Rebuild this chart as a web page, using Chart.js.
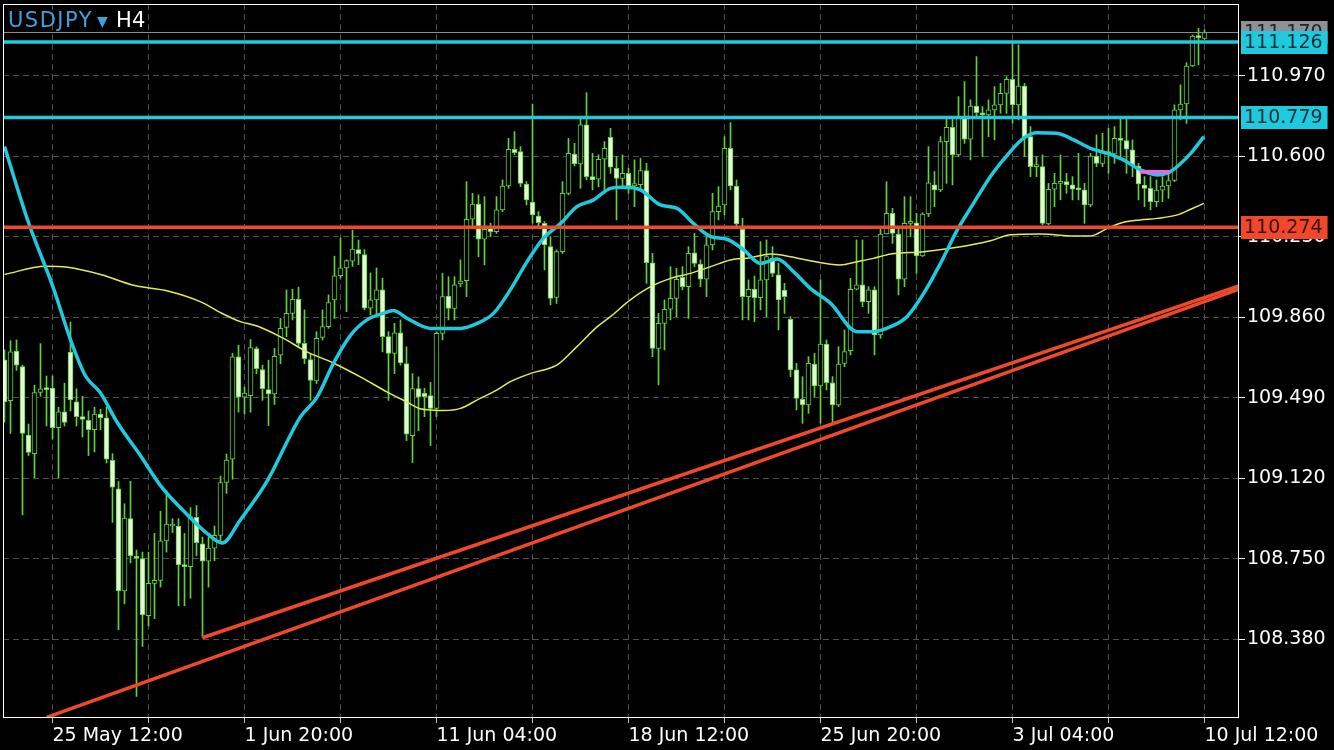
<!DOCTYPE html>
<html>
<head>
<meta charset="utf-8">
<title>USDJPY H4</title>
<script src="https://cdn.jsdelivr.net/npm/chart.js@4.4.0/dist/chart.umd.min.js"></script>
<style>
  html, body { margin: 0; padding: 0; background: #000; }
  canvas { display: block; }
</style>
</head>
<body>
<canvas id="chart" width="1334" height="750"></canvas>
<script>
// H4 candles, one per bar index (0 = oldest)
const opens = [
  109.664, 109.476, 109.705, 109.633, 109.318, 109.233, 109.514, 109.531, 109.534, 109.352,
  109.425, 109.700, 109.471, 109.403, 109.386, 109.343, 109.415, 109.398, 109.202, 109.071,
  108.602, 108.934, 108.755, 108.750, 108.488, 108.636, 108.650, 108.832, 108.900, 108.900,
  108.721, 108.713, 108.940, 108.818, 108.738, 108.798, 108.857, 109.100, 109.208, 109.678,
  109.493, 109.500, 109.716, 109.620, 109.527, 109.508, 109.686, 109.814, 109.878, 109.943,
  109.740, 109.666, 109.567, 109.768, 109.817, 109.940, 110.051, 110.087, 110.118, 110.171,
  110.148, 109.902, 109.940, 109.986, 109.771, 109.694, 109.789, 109.647, 109.316, 109.532,
  109.510, 109.500, 109.441, 109.786, 109.958, 109.901, 110.013, 110.029, 110.311, 110.381,
  110.219, 110.270, 110.254, 110.354, 110.464, 110.633, 110.622, 110.473, 110.390, 110.326,
  110.292, 110.185, 109.952, 110.162, 110.430, 110.611, 110.565, 110.745, 110.507, 110.495,
  110.587, 110.688, 110.545, 110.499, 110.522, 110.464, 110.470, 110.535, 110.111, 109.717,
  109.832, 109.897, 109.947, 110.044, 110.001, 110.157, 110.105, 110.035, 110.193, 110.346,
  110.377, 110.637, 110.464, 110.265, 109.955, 109.990, 109.950, 110.032, 110.131, 110.055,
  109.985, 109.851, 109.618, 109.483, 109.457, 109.645, 109.544, 109.737, 109.559, 109.457,
  109.648, 109.706, 109.989, 110.009, 109.932, 109.986, 109.779, 110.243, 110.338, 110.243,
  110.035, 110.292, 110.295, 110.142, 110.335, 110.469, 110.446, 110.668, 110.734, 110.607,
  110.775, 110.679, 110.832, 110.801, 110.791, 110.814, 110.837, 110.890, 110.955, 110.837,
  110.924, 110.691, 110.553, 110.553, 110.289, 110.449, 110.476, 110.484, 110.469, 110.449,
  110.446, 110.377, 110.602, 110.568, 110.622, 110.611, 110.683, 110.673, 110.630, 110.556,
  110.468, 110.453, 110.392, 110.445, 110.464, 110.489, 110.814, 110.841, 111.016, 111.154,
  111.143
];
const highs = [
  109.710, 109.752, 109.756, 109.640, 109.369, 109.548, 109.739, 109.590, 109.590, 109.446,
  109.557, 109.838, 109.531, 109.497, 109.429, 109.446, 109.437, 109.446, 109.233, 109.105,
  109.002, 109.105, 108.790, 108.780, 108.780, 108.866, 108.968, 109.062, 108.934, 108.934,
  108.866, 108.985, 108.994, 108.849, 108.849, 108.900, 109.130, 109.231, 109.694, 109.732,
  109.539, 109.758, 109.724, 109.640, 109.663, 109.717, 109.855, 109.986, 109.989, 109.999,
  109.894, 109.694, 109.794, 109.894, 109.963, 110.141, 110.225, 110.125, 110.261, 110.215,
  110.171, 110.064, 110.087, 110.040, 109.794, 109.832, 109.848, 109.724, 109.601, 109.586,
  109.533, 109.560, 109.794, 110.062, 110.047, 110.047, 110.124, 110.484, 110.430, 110.423,
  110.415, 110.293, 110.415, 110.492, 110.683, 110.714, 110.645, 110.484, 110.841, 110.346,
  110.300, 110.231, 110.170, 110.484, 110.683, 110.660, 110.783, 110.893, 110.614, 110.607,
  110.668, 110.729, 110.599, 110.607, 110.545, 110.584, 110.591, 110.568, 110.154, 109.878,
  109.940, 110.093, 110.085, 110.093, 110.185, 110.246, 110.124, 110.231, 110.430, 110.461,
  110.691, 110.755, 110.492, 110.315, 110.032, 110.050, 110.208, 110.216, 110.185, 110.108,
  110.016, 109.863, 109.648, 109.587, 109.679, 109.694, 110.032, 109.756, 109.587, 109.725,
  109.802, 110.039, 110.216, 110.216, 110.001, 110.001, 110.277, 110.484, 110.361, 110.277,
  110.415, 110.415, 110.338, 110.341, 110.645, 110.530, 110.691, 110.775, 110.775, 110.875,
  110.944, 110.860, 111.059, 110.829, 110.860, 110.921, 110.936, 110.967, 111.120, 111.113,
  110.936, 110.737, 110.599, 110.607, 110.476, 110.522, 110.607, 110.522, 110.507, 110.614,
  110.476, 110.614, 110.699, 110.706, 110.729, 110.737, 110.783, 110.783, 110.676, 110.568,
  110.507, 110.507, 110.492, 110.507, 110.530, 110.837, 110.929, 111.031, 111.159, 111.189,
  111.182
];
const lows = [
  109.378, 109.326, 109.616, 108.951, 109.224, 109.122, 109.497, 109.360, 109.300, 109.122,
  109.360, 109.429, 109.360, 109.309, 109.224, 109.241, 109.343, 109.190, 108.917, 108.423,
  108.542, 108.730, 108.116, 108.346, 108.440, 108.474, 108.619, 108.780, 108.870, 108.533,
  108.533, 108.568, 108.764, 108.388, 108.619, 108.740, 108.830, 109.050, 109.115, 109.424,
  109.416, 109.424, 109.601, 109.478, 109.362, 109.459, 109.647, 109.771, 109.848, 109.724,
  109.647, 109.478, 109.555, 109.755, 109.809, 109.855, 110.040, 109.886, 110.094, 110.102,
  109.894, 109.871, 109.863, 109.701, 109.478, 109.601, 109.640, 109.293, 109.192, 109.339,
  109.403, 109.270, 109.403, 109.756, 109.848, 109.848, 110.001, 109.955, 110.277, 110.139,
  110.101, 110.231, 110.246, 110.346, 110.453, 110.607, 110.461, 110.377, 110.292, 110.277,
  110.078, 109.917, 109.924, 110.154, 110.423, 110.556, 110.453, 110.492, 110.446, 110.461,
  110.446, 110.522, 110.308, 110.453, 110.430, 110.369, 110.446, 110.016, 109.679, 109.549,
  109.710, 109.848, 109.863, 109.986, 109.855, 110.093, 110.001, 109.955, 110.170, 110.308,
  110.331, 110.446, 110.277, 109.848, 109.848, 109.840, 109.894, 109.863, 110.047, 109.802,
  109.878, 109.587, 109.434, 109.372, 109.418, 109.495, 109.372, 109.526, 109.380, 109.449,
  109.633, 109.687, 109.986, 109.909, 109.878, 109.687, 109.763, 110.243, 110.200, 109.963,
  110.001, 110.231, 110.062, 110.139, 110.323, 110.369, 110.438, 110.476, 110.469, 110.599,
  110.660, 110.584, 110.783, 110.599, 110.691, 110.676, 110.798, 110.798, 110.752, 110.768,
  110.599, 110.507, 110.507, 110.285, 110.285, 110.369, 110.400, 110.430, 110.400, 110.400,
  110.292, 110.369, 110.553, 110.553, 110.522, 110.568, 110.599, 110.522, 110.507, 110.400,
  110.369, 110.354, 110.369, 110.392, 110.407, 110.484, 110.768, 110.752, 111.013, 111.021,
  111.139
];
const closes = [
  109.471, 109.701, 109.640, 109.326, 109.238, 109.514, 109.531, 109.527, 109.352, 109.425,
  109.377, 109.480, 109.403, 109.390, 109.343, 109.415, 109.398, 109.207, 109.079, 108.602,
  108.937, 108.764, 108.752, 108.491, 108.636, 108.650, 108.832, 108.909, 108.903, 108.721,
  108.713, 108.943, 108.823, 108.738, 108.798, 108.857, 109.100, 109.203, 109.678, 109.493,
  109.512, 109.721, 109.624, 109.532, 109.508, 109.681, 109.809, 109.878, 109.943, 109.740,
  109.670, 109.570, 109.763, 109.817, 109.928, 110.051, 110.087, 110.121, 110.174, 110.153,
  109.902, 109.940, 109.986, 109.771, 109.694, 109.789, 109.650, 109.323, 109.532, 109.493,
  109.495, 109.441, 109.786, 109.955, 109.901, 110.009, 110.027, 110.311, 110.381, 110.219,
  110.265, 110.254, 110.354, 110.464, 110.633, 110.617, 110.476, 110.400, 110.331, 110.295,
  110.193, 109.947, 110.162, 110.430, 110.614, 110.565, 110.745, 110.507, 110.492, 110.587,
  110.637, 110.550, 110.499, 110.522, 110.464, 110.475, 110.535, 110.111, 109.717, 109.832,
  109.897, 109.947, 110.035, 110.001, 110.154, 110.108, 110.035, 110.193, 110.346, 110.372,
  110.637, 110.464, 110.289, 109.955, 109.989, 109.950, 110.032, 110.139, 110.062, 109.940,
  109.955, 109.618, 109.487, 109.457, 109.648, 109.544, 109.737, 109.559, 109.457, 109.645,
  109.702, 109.989, 110.009, 109.932, 109.986, 109.779, 110.243, 110.338, 110.246, 110.035,
  110.292, 110.295, 110.142, 110.335, 110.479, 110.446, 110.668, 110.734, 110.607, 110.775,
  110.679, 110.832, 110.801, 110.791, 110.814, 110.837, 110.890, 110.955, 110.837, 110.924,
  110.691, 110.553, 110.558, 110.292, 110.449, 110.476, 110.484, 110.469, 110.449, 110.446,
  110.377, 110.602, 110.568, 110.622, 110.611, 110.683, 110.673, 110.633, 110.561, 110.473,
  110.453, 110.392, 110.445, 110.464, 110.489, 110.814, 110.841, 111.016, 111.154, 111.146,
  111.170
];

// moving averages, read at sample bar positions
const cyanIdx = [0, 4, 8, 11.3, 13.5, 16, 18.8, 22.7, 26, 30.5, 33.8, 36.3, 39.3, 43.8, 49.3, 52.1,
  54.8, 57.7, 60.4, 63.2, 64.8, 67.1, 71, 76, 78.8, 81.5, 84.3, 87.1, 89.8, 92.7, 95.4, 98.2, 101,
  103.2, 106, 109.3, 112.1, 114.8, 117.7, 120.4, 123.2, 126, 128.8, 131.5, 134.3, 137.7, 142.1,
  144.8, 147.7, 150.4, 153.2, 156, 158.8, 161.5, 164.3, 167.1, 169.8, 172.1, 175.4, 178.2, 181,
  183.8, 186.5, 189.3, 192.1, 194.3, 197.7, 199.9];
const cyanVal = [110.645, 110.296, 110.006, 109.734, 109.590, 109.512, 109.376, 109.222, 109.086,
  108.951, 108.865, 108.822, 108.928, 109.108, 109.401, 109.493, 109.647, 109.778, 109.848, 109.879,
  109.891, 109.855, 109.809, 109.809, 109.832, 109.878, 109.986, 110.116, 110.223, 110.292, 110.369,
  110.400, 110.453, 110.458, 110.446, 110.377, 110.361, 110.292, 110.231, 110.219, 110.170, 110.108,
  110.128, 110.070, 109.993, 109.924, 109.794, 109.794, 109.817, 109.863, 109.970, 110.108, 110.262,
  110.384, 110.507, 110.605, 110.683, 110.709, 110.706, 110.676, 110.637, 110.614, 110.584, 110.538,
  110.515, 110.530, 110.614, 110.691];
const magentaIdx = [189.2, 194.2];
const magentaVal = [110.530, 110.528];

const yellowIdx = [0, 6.8, 10.5, 16, 21.7, 27.2, 32.8, 36.1, 39.3, 42.1, 46.5, 50.4, 54.8, 59.3,
  63.8, 67.1, 69.3, 71, 73.2, 76, 78.8, 82.1, 84.3, 87.7, 92.1, 95.4, 98.8, 101, 104.3, 107.7, 111,
  114.3, 117.7, 121, 124.3, 127.7, 131, 134.3, 139.3, 142.1, 144.8, 147.7, 153.2, 158.8, 164.3,
  167.7, 172.7, 178.2, 181, 183.8, 186.5, 189.3, 192.1, 195.5, 197.7, 199.9];
const yellowVal = [110.057, 110.095, 110.090, 110.057, 110.006, 109.981, 109.930, 109.880, 109.840,
  109.820, 109.763, 109.701, 109.650, 109.586, 109.516, 109.470, 109.439, 109.434, 109.431, 109.441,
  109.480, 109.526, 109.564, 109.602, 109.641, 109.725, 109.817, 109.863, 109.940, 110.001, 110.039,
  110.062, 110.093, 110.124, 110.134, 110.151, 110.139, 110.120, 110.101, 110.116, 110.131, 110.151,
  110.162, 110.182, 110.212, 110.240, 110.243, 110.234, 110.234, 110.269, 110.297, 110.308, 110.315,
  110.331, 110.357, 110.384];

// drawn objects
const cyanLevels = [111.126, 110.779];
const redLevels = [110.274];
const bidLevel = 111.170;
const trendLowIdx = [7.03, 205.75];
const trendLowVal = [108.020, 109.989];
const trendHighIdx = [32.97, 205.75];
const trendHighVal = [108.386, 110.004];

// axes
const xTickIdx = [8, 24, 40, 56, 72, 88, 104, 120, 136, 152, 168, 184, 200];
const xTickText = ['25 May 12:00', '', '1 Jun 20:00', '', '11 Jun 04:00', '', '18 Jun 12:00', '',
  '25 Jun 20:00', '', '3 Jul 04:00', '', '10 Jul 12:00'];
const yTickVals = [108.380, 108.750, 109.120, 109.490, 109.860, 110.230, 110.600, 110.970];

const xMin = -0.25, xMax = 205.75;
const yMin = 108.017, yMax = 111.301;

const GREEN = '#5fd23c';
const CYAN = '#1fc9de';
const RED = '#f0482a';
const FONT = 'DejaVu Sans';

function pts(xs, ys) {
  return xs.map((x, k) => ({ x: x, y: ys[k] }));
}
function flat(v) {
  return [{ x: xMin, y: v }, { x: xMax, y: v }];
}

const bars = opens.map((o, i) => i);

const datasets = [
  {
    type: 'bar', label: 'wick', order: 6, grouped: false,
    data: bars.map(i => ({ x: i, y: [lows[i], highs[i]] })),
    backgroundColor: GREEN, borderWidth: 0, barThickness: 1
  },
  {
    type: 'bar', label: 'body', order: 5, grouped: false,
    data: bars.map(i => ({ x: i, y: [opens[i], closes[i]] })),
    backgroundColor: ctx => closes[ctx.dataIndex] >= opens[ctx.dataIndex] ? '#000000' : '#e4f8d4',
    borderColor: GREEN, borderWidth: 1, borderSkipped: false, barThickness: 5, minBarLength: 2
  },
  {
    type: 'line', label: 'slow', order: 4, data: pts(yellowIdx, yellowVal),
    borderColor: '#e3ec55', borderWidth: 1.5, pointRadius: 0, cubicInterpolationMode: 'monotone', clip: 0
  },
  {
    type: 'line', label: 'fast', order: 3, data: pts(cyanIdx, cyanVal),
    borderColor: CYAN, borderWidth: 3.5, pointRadius: 0, cubicInterpolationMode: 'monotone', clip: 0
  },
  {
    type: 'line', label: 'flat', order: 2, data: pts(magentaIdx, magentaVal),
    borderColor: '#e06ae6', borderWidth: 4, pointRadius: 0, clip: 0
  },
  {
    type: 'line', label: 'bid', order: 1, data: flat(bidLevel),
    borderColor: '#8d9096', borderWidth: 1, pointRadius: 0, clip: 0
  }
];
cyanLevels.forEach(v => datasets.push({
  type: 'line', order: 0, data: flat(v), borderColor: CYAN, borderWidth: 3.5, pointRadius: 0, clip: 0
}));
redLevels.forEach(v => datasets.push({
  type: 'line', order: 0, data: flat(v), borderColor: RED, borderWidth: 3.5, pointRadius: 0, clip: 0
}));
datasets.push({
  type: 'line', order: 0, data: pts(trendLowIdx, trendLowVal),
  borderColor: RED, borderWidth: 3.5, pointRadius: 0, clip: 0
});
datasets.push({
  type: 'line', order: 0, data: pts(trendHighIdx, trendHighVal),
  borderColor: RED, borderWidth: 3.5, pointRadius: 0, clip: 0
});

// frame, symbol caption and price tags
const decor = {
  id: 'decor',
  afterDatasetsDraw(chart) {
    const { ctx, chartArea: a } = chart;
    ctx.save();
    ctx.strokeStyle = '#ffffff';
    ctx.lineWidth = 1;
    ctx.strokeRect(Math.round(a.left) + 0.5, Math.round(a.top) + 0.5,
      Math.round(a.right - a.left) - 1, Math.round(a.bottom - a.top) - 1);
    ctx.restore();
  },
  afterDraw(chart) {
    const { ctx, chartArea: a } = chart;
    const y = chart.scales.y;
    ctx.save();
    ctx.font = '21px "' + FONT + '"';
    ctx.textBaseline = 'alphabetic';
    ctx.letterSpacing = '1.5px';
    ctx.fillStyle = '#3ea2df';
    ctx.fillText('USDJPY', a.left + 5, 27);
    let w = ctx.measureText('USDJPY').width;
    ctx.letterSpacing = '0px';
    ctx.font = '14px "' + FONT + '"';
    ctx.fillText('\u25BC', a.left + 9 + w, 26);
    ctx.font = '21px "' + FONT + '"';
    ctx.fillStyle = '#ffffff';
    ctx.fillText('H4', a.left + 28 + w, 27);

    function tag(v, bg, fg) {
      const py = y.getPixelForValue(v);
      ctx.font = '19px "' + FONT + '"';
      const txt = v.toFixed(3);
      const tw = ctx.measureText(txt).width;
      ctx.fillStyle = bg;
      ctx.fillRect(a.right + 2, Math.round(py - 11.5), tw + 8, 23);
      ctx.fillStyle = fg;
      ctx.textBaseline = 'middle';
      ctx.fillText(txt, a.right + 5, py + 1);
    }
    tag(bidLevel, '#8e9197', '#222428');
    cyanLevels.forEach(v => tag(v, CYAN, '#07303a'));
    redLevels.forEach(v => tag(v, RED, '#3a0c04'));
    ctx.restore();
  }
};

const tickFont = { family: FONT, size: 19 };

new Chart(document.getElementById('chart'), {
  type: 'bar',
  data: { datasets: datasets },
  plugins: [decor],
  options: {
    responsive: false,
    animation: false,
    devicePixelRatio: 1,
    layout: { padding: { left: 3, top: 4, right: 0, bottom: 0 } },
    plugins: { legend: { display: false }, tooltip: { enabled: false } },
    scales: {
      x: {
        type: 'linear', min: xMin, max: xMax, offset: false, bounds: 'data',
        grid: { color: '#505050', offset: false, drawTicks: true, tickLength: 5, tickColor: '#c8c8c8' },
        border: { display: false, dash: [6, 4] },
        afterBuildTicks: s => { s.ticks = xTickIdx.map(v => ({ value: v })); },
        afterFit: s => { s.height = 32; s.paddingLeft = 0; s.paddingRight = 0; },
        ticks: {
          autoSkip: false, maxRotation: 0, minRotation: 0, align: 'start', padding: 2,
          color: '#ffffff', font: tickFont,
          callback: (v, k) => xTickText[k]
        }
      },
      y: {
        type: 'linear', position: 'right', min: yMin, max: yMax, bounds: 'data',
        grid: { color: '#505050', drawTicks: true, tickLength: 6, tickColor: '#ffffff' },
        border: { display: false, dash: [6, 4] },
        afterBuildTicks: s => { s.ticks = yTickVals.map(v => ({ value: v })); },
        afterFit: s => { s.width = 95; s.paddingTop = 0; s.paddingBottom = 0; },
        ticks: {
          padding: 2, color: '#ffffff', font: tickFont,
          callback: v => v.toFixed(3)
        }
      }
    }
  }
});
</script>
</body>
</html>
